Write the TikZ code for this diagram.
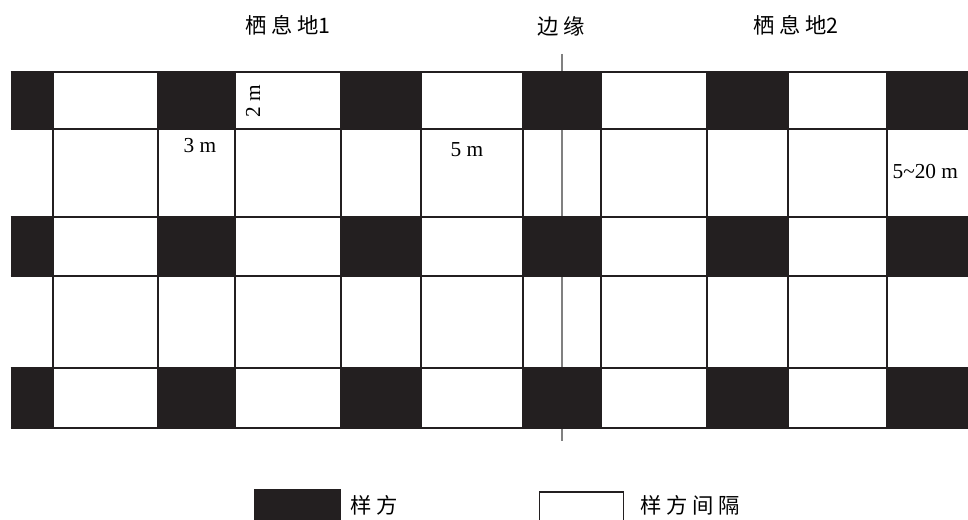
\documentclass[tikz,border=0pt]{standalone}
\usepackage{fontspec}
\setmainfont{Liberation Serif}
\newfontfamily\cjk{Noto Sans CJK SC}
\definecolor{ink}{HTML}{231F20}
\definecolor{edgegray}{HTML}{808080}
\tikzset{
  cell/.style={fill=ink, draw=ink, line width=1.2pt},
  gridline/.style={draw=ink, line width=1.5pt},
  edgeline/.style={draw=edgegray, line width=1.2pt},
  title/.style={font=\cjk\fontsize{16pt}{18pt}\selectfont, inner sep=0pt},
  dim/.style={font=\fontsize{16pt}{18pt}\selectfont, inner sep=0pt},
  legendtext/.style={font=\cjk\fontsize{16pt}{18pt}\selectfont, inner sep=0pt, anchor=west}
}
\newcommand{\cg}{\hspace{3.5pt}}
\begin{document}
\begin{tikzpicture}[x=0.75pt, y=-0.75pt]
\clip (0,0) rectangle (968,520);
\fill[white] (0,0) rectangle (968,520);
% edge line
\draw[edgeline] (561.7,54) -- (561.7,441);
% black sample cells
\foreach \ya/\yb in {72/129, 217/276, 368/428}{
  \foreach \xa/\xb in {11.7/53.3, 158.3/235, 341/421, 522.7/601, 706.7/787.7, 886.7/972}{
    \filldraw[cell] (\xa,\ya) rectangle (\xb,\yb);
  }
}
% horizontal lines
\foreach \y in {72,129,217,276,368,428}{
  \draw[gridline] (10.5,\y) -- (972,\y);
}
% vertical lines
\foreach \x in {53.3,158.3,235,341,421,522.7,601,706.7,787.7,886.7}{
  \draw[gridline] (\x,72) -- (\x,428);
}
% titles
\node[title] (h1) at (288,25) {栖\cg 息\cg 地1};
\node[title] (edge) at (561,26) {边\cg 缘};
\node[title] (h2) at (796,25) {栖\cg 息\cg 地2};
% dimension labels
\node[dim, fill=white, inner sep=1pt] (d3) at (200,146) {3 m};
\node[dim, fill=white, inner sep=1pt] (d5) at (467,150) {5 m};
\node[dim, fill=white, inner sep=1pt, rotate=90] (d2) at (253,101) {2 m};
\node[dim, fill=white, inner sep=1pt, anchor=west] (d520) at (891,172) {5\textasciitilde 20 m};
% legend
\filldraw[cell] (255,489.5) rectangle (340,525);
\node[legendtext] (l1) at (350,505) {样\cg 方};
\draw[draw=ink, line width=1.2pt] (539.5,492) rectangle (623.5,525);
\node[legendtext] (l2) at (640,505) {样\cg 方\cg 间\cg 隔};
\end{tikzpicture}
\end{document}
